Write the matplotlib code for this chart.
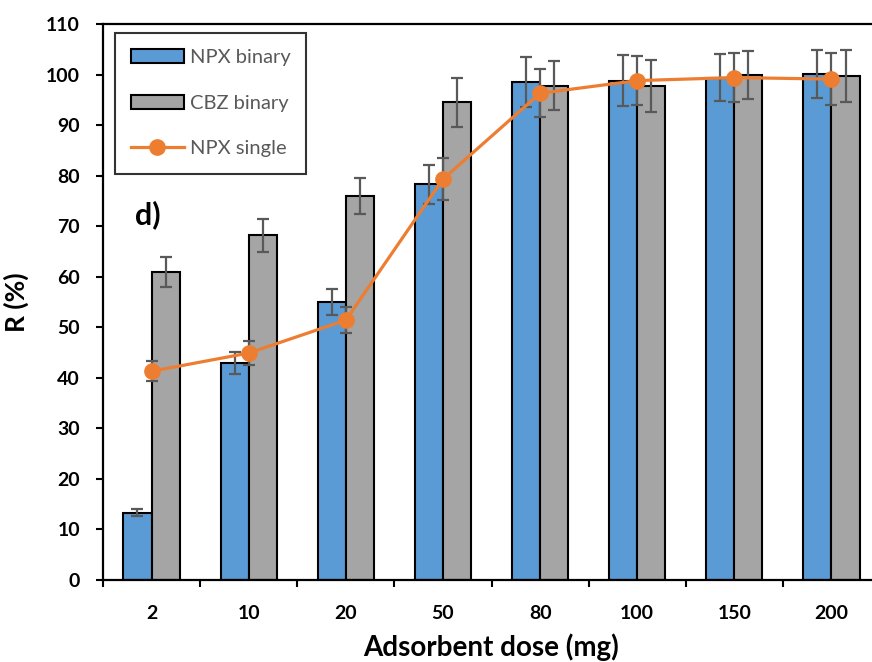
import numpy as np
import matplotlib.pyplot as plt
from matplotlib.ticker import FixedLocator, NullFormatter, FixedFormatter

doses = ['2', '10', '20', '50', '80', '100', '150', '200']
npx_binary = [13.3, 43.0, 55.0, 78.3, 98.5, 98.8, 99.4, 100.1]
npx_binary_err = [0.7, 2.2, 2.5, 3.9, 4.9, 5.0, 4.6, 4.7]
cbz_binary = [60.9, 68.2, 76.0, 94.5, 97.8, 97.7, 99.9, 99.7]
cbz_binary_err = [3.0, 3.3, 3.5, 4.8, 4.8, 5.1, 4.7, 5.1]
npx_single = [41.3, 44.9, 51.4, 79.3, 96.3, 98.8, 99.4, 99.1]
npx_single_err = [2.0, 2.3, 2.6, 4.1, 4.7, 4.9, 4.9, 5.1]

plt.rcParams['font.family'] = ['Lato', 'DejaVu Sans']

fig = plt.figure(figsize=(8.72, 6.62), dpi=100)
ax = fig.add_axes([103 / 872, 1 - 580 / 662, 777 / 872, 556 / 662])

x = np.arange(len(doses))
w = 0.29
err_kw = dict(ecolor='#595959', elinewidth=1.6, capsize=4.3, capthick=1.6)
b1 = ax.bar(x - w / 2, npx_binary, w, color='#5B9BD5', edgecolor='black', linewidth=1.5,
            yerr=npx_binary_err, error_kw=err_kw, label='NPX binary', zorder=2)
b2 = ax.bar(x + w / 2, cbz_binary, w, color='#A5A5A5', edgecolor='black', linewidth=1.5,
            yerr=cbz_binary_err, error_kw=err_kw, label='CBZ binary', zorder=2)
ax.errorbar(x, npx_single, yerr=npx_single_err, fmt='none', ecolor='#595959',
            elinewidth=1.6, capsize=4.3, capthick=1.6, zorder=3)
ln, = ax.plot(x, npx_single, color='#ED7D31', linewidth=2.3, marker='o', markersize=11,
              label='NPX single', zorder=4)

ax.set_xlim(-0.5, len(doses) - 0.5)
ax.set_ylim(0, 110)
ax.set_yticks(np.arange(0, 111, 10))

# category labels sit between the tick marks
ax.xaxis.set_major_locator(FixedLocator(np.arange(-0.5, len(doses), 1.0)))
ax.xaxis.set_major_formatter(NullFormatter())
ax.xaxis.set_minor_locator(FixedLocator(x))
ax.xaxis.set_minor_formatter(FixedFormatter(doses))
ax.tick_params(axis='x', which='minor', length=0, pad=18)
ax.tick_params(axis='x', which='major', length=5, width=1.5, direction='out')
ax.tick_params(axis='y', length=5, width=1.5, direction='out', pad=11.5)
for lab in ax.get_xticklabels(minor=True) + ax.get_yticklabels():
    lab.set_fontsize(14)
    lab.set_fontweight('bold')

for s in ax.spines.values():
    s.set_linewidth(1.6)

ax.set_xlabel('Adsorbent dose (mg)', fontsize=20, fontweight='bold', labelpad=8)
ax.set_ylabel('R (%)', fontsize=19, fontweight='bold', labelpad=12)

ax.text(0.041, 0.64, 'd)', transform=ax.transAxes, fontsize=22, fontweight='bold')

leg = ax.legend([b1, b2, ln], ['NPX binary', 'CBZ binary', 'NPX single'],
                loc='upper left', bbox_to_anchor=(0.0155, 0.984), borderaxespad=0,
                fontsize=14.5, labelspacing=1.42, handlelength=2.6, handletextpad=0.3,
                fancybox=False, edgecolor='black', borderpad=0.8)
leg.get_frame().set_linewidth(1.5)
for t in leg.get_texts():
    t.set_color('#595959')

fig.savefig('out.png', dpi=100)
